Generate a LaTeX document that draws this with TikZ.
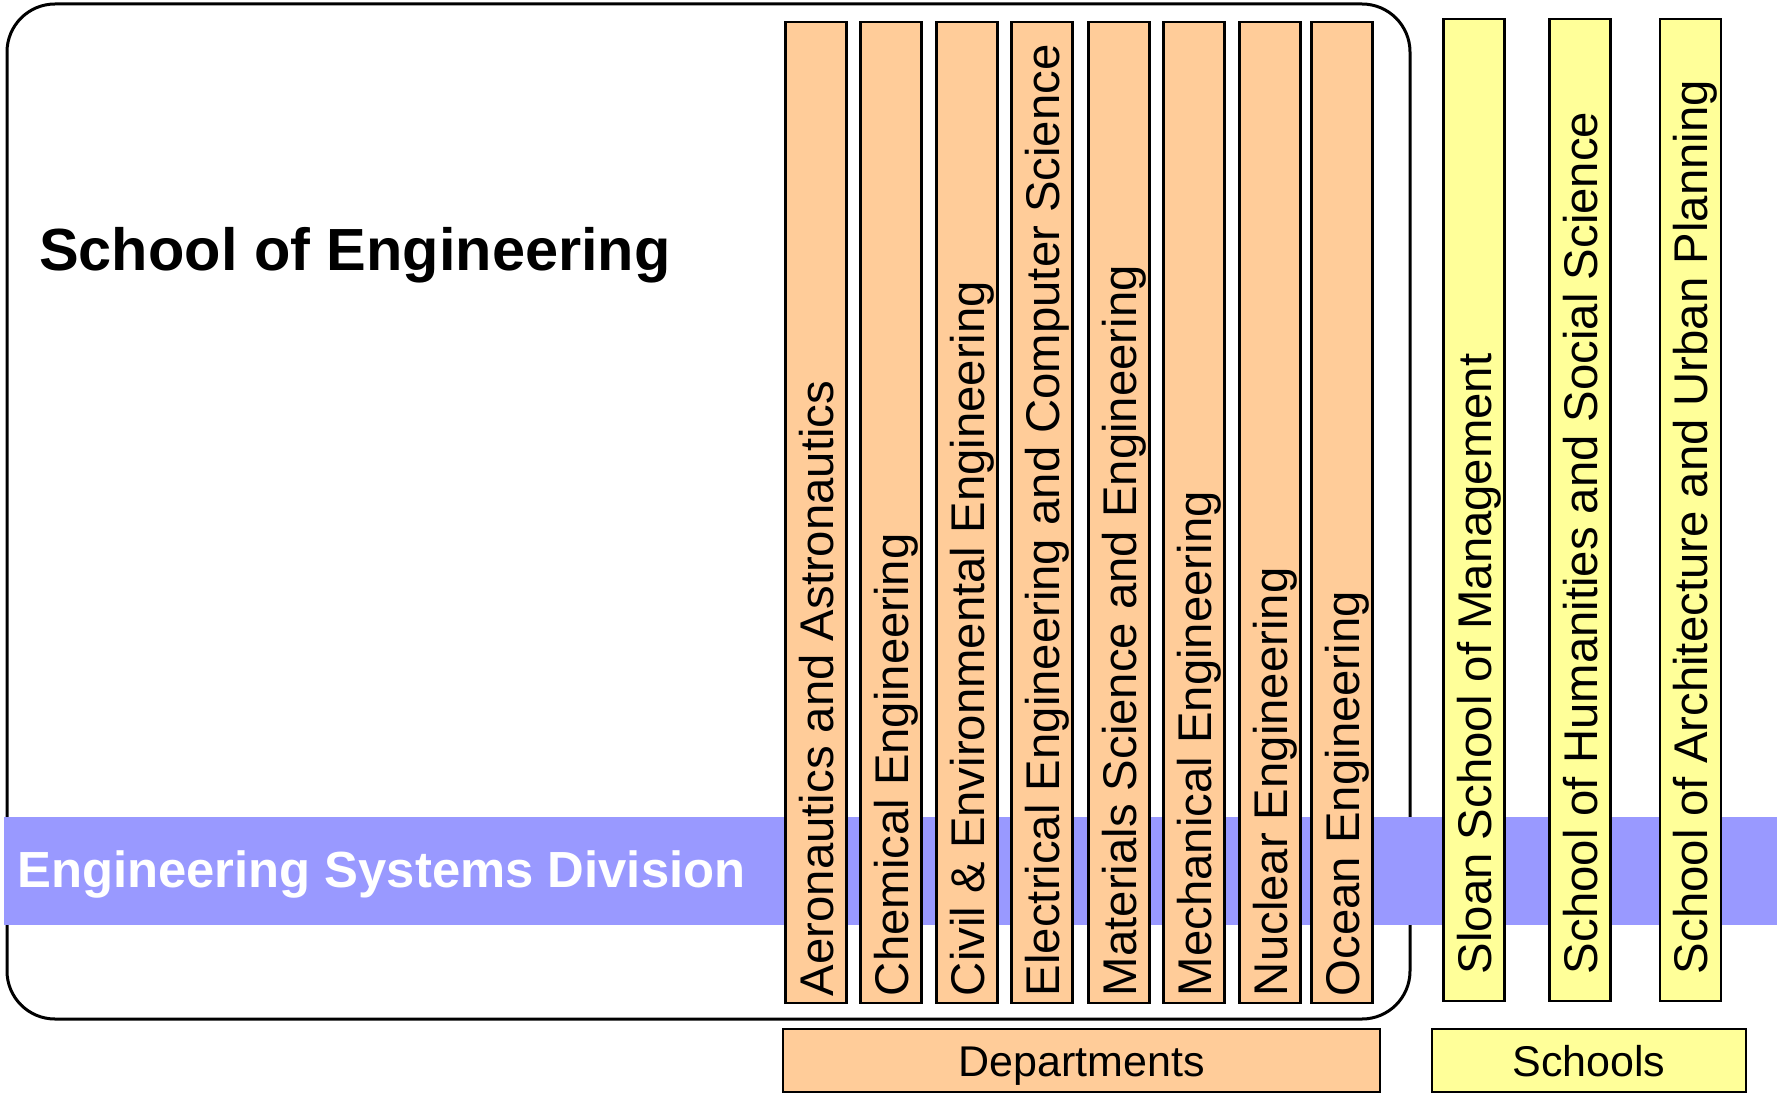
\documentclass[tikz,border=0pt]{standalone}
\usepackage{fontspec}
\setmainfont{Liberation Sans}
\definecolor{deptfill}{HTML}{FFCC99}
\definecolor{schoolfill}{HTML}{FFFF99}
\definecolor{esdfill}{HTML}{9999FF}
\tikzset{
  bar/.style={draw=black, line width=2.5pt, rectangle, inner sep=0pt, minimum width=61pt},
  deptbar/.style={bar, fill=deptfill, minimum height=981pt},
  schoolbar/.style={bar, fill=schoolfill, minimum height=982pt},
  barlabel/.style={rotate=90, anchor=west, inner sep=0pt, text height=34pt, text depth=0pt,
    font=\fontsize{47.3}{56}\selectfont},
  legendbox/.style={draw=black, line width=2.5pt, rectangle, inner sep=0pt, minimum height=63pt,
    text height=31pt, text depth=0pt, font=\fontsize{43}{50}\selectfont},
}
\begin{document}
\begin{tikzpicture}[x=1pt, y=-1pt]
\useasboundingbox (0,0) rectangle (1777,1094);
% School of Engineering frame
\node[draw=black, line width=3pt, rounded corners=48pt, rectangle, inner sep=0pt,
  minimum width=1403pt, minimum height=1015pt] (soe) at (708.5,511.5) {};
\node[anchor=base west, inner sep=0pt, font=\bfseries\fontsize{59.5}{70}\selectfont] (soetitle) at (39,270) {School of Engineering};
% Engineering Systems Division band
\node[fill=esdfill, rectangle, inner sep=0pt, anchor=north west, minimum width=1773pt, minimum height=108pt] (esd) at (4,817) {};
\node[anchor=base west, inner sep=0pt, text=white, font=\bfseries\fontsize{50.8}{60}\selectfont] (esdtitle) at (17,887) {Engineering Systems Division};
% departments
\foreach \name/\cx/\txt in {
  aero/816/Aeronautics and Astronautics,
  chem/891/Chemical Engineering,
  civil/967/Civil \& Environmental Engineering,
  eecs/1042/Electrical Engineering and Computer Science,
  mat/1119/Materials Science and Engineering,
  mech/1194/Mechanical Engineering,
  nuc/1270/Nuclear Engineering,
  ocean/1342/Ocean Engineering}{
  \node[deptbar] (\name) at (\cx,512.5) {};
  \node[barlabel] (\name-label) at ([yshift=8pt]\name.south) {\txt};
}
% other schools
\foreach \name/\cx/\txt in {
  sloan/1474/Sloan School of Management,
  shass/1580/School of Humanities and Social Science,
  sap/1690.5/School of Architecture and Urban Planning}{
  \node[schoolbar] (\name) at (\cx,510) {};
  \node[barlabel] (\name-label) at ([yshift=28pt]\name.south) {\txt};
}
% legend
\node[legendbox, fill=deptfill, minimum width=597pt] (departments) at (1081.5,1060.5) {Departments};
\node[legendbox, fill=schoolfill, minimum width=314pt] (schools) at (1589,1060.5) {Schools};
\end{tikzpicture}
\end{document}
